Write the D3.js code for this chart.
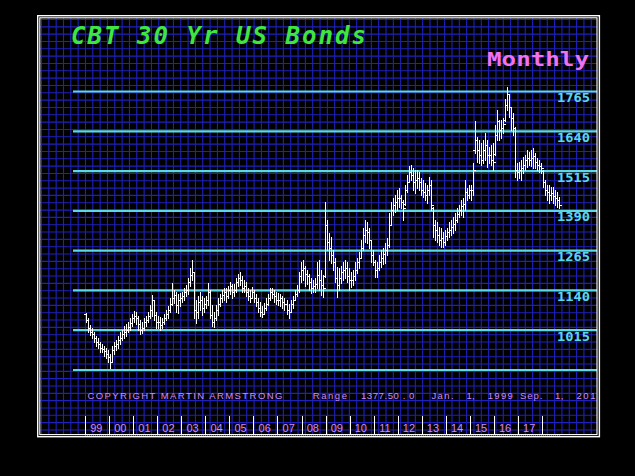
<!DOCTYPE html>
<html><head><meta charset="utf-8">
<script src="https://cdn.jsdelivr.net/npm/d3@7"></script>
<style>html,body{margin:0;padding:0;background:#000;}svg{display:block;}</style>
</head><body>
<svg id="c" width="635" height="476"></svg>
<script>
// ---- data (monthly bars, Jan 1999 .. Sep 2018) ----
const startYear = 1999;
const yearLabels = ["99","00","01","02","03","04","05","06","07","08","09","10","11","12","13","14","15","16","17"];
const levelTicks = [890, 1015, 1140, 1265, 1390, 1515, 1640, 1765];
const levelLabels = ["", "1015", "1140", "1265", "1390", "1515", "1640", "1765"];
const titleText = "CBT 30 Yr US Bonds";
const periodText = "Monthly";
const copyrightText = "COPYRIGHT MARTIN ARMSTRONG";
const rangeTokens = ["Range", "1377.50 . 0", "Jan.", "1,", "1999", "Sep.", "1,", "2018"];

const openP = [
1065,1047,1021,1009,1002,990,977,971,958,955,949,939,
930,914,952,965,971,984,990,1002,1009,1015,1025,1037,
1053,1059,1053,1034,1015,1021,1040,1047,1059,1078,1110,1062,
1040,1040,1031,1040,1053,1065,1078,1097,1116,1125,1094,1110,
1116,1122,1135,1141,1166,1188,1198,1078,1072,1103,1110,1084,
1097,1110,1135,1062,1040,1053,1078,1097,1116,1125,1135,1122,
1141,1154,1135,1141,1166,1179,1173,1147,1154,1135,1122,1116,
1135,1116,1103,1084,1072,1065,1084,1097,1116,1135,1128,1122,
1110,1110,1116,1103,1097,1078,1072,1097,1110,1128,1141,1185,
1204,1210,1191,1185,1166,1147,1154,1160,1188,1173,1157,1185,
1346,1292,1273,1251,1229,1179,1157,1179,1198,1204,1210,1185,
1173,1173,1185,1204,1229,1242,1273,1314,1330,1324,1299,1251,
1229,1204,1210,1229,1242,1255,1267,1283,1346,1393,1409,1418,
1431,1431,1418,1412,1456,1481,1513,1503,1481,1488,1494,1481,
1456,1450,1440,1456,1472,1400,1346,1330,1314,1299,1305,1292,
1311,1324,1330,1340,1349,1362,1381,1393,1406,1412,1450,1440,
1456,1456,1580,1614,1582,1566,1551,1582,1598,1566,1566,1551,
1570,1629,1671,1645,1651,1675,1724,1756,1715,1683,1651,1519,
1513,1519,1525,1535,1551,1557,1551,1557,1563,1544,1535,1532,
1515,1481,1456,1450,1440,1447,1437,1431,1425];
const highP = [
1069,1053,1031,1021,1009,996,990,977,971,965,958,952,
939,965,977,984,996,1009,1015,1028,1034,1040,1053,1065,
1075,1072,1059,1047,1040,1053,1059,1072,1094,1125,1110,1072,
1059,1056,1053,1065,1078,1091,1116,1163,1141,1135,1128,1132,
1135,1147,1157,1179,1210,1236,1198,1110,1122,1135,1122,1116,
1122,1163,1141,1094,1072,1094,1116,1128,1141,1147,1147,1154,
1166,1160,1160,1179,1191,1198,1185,1173,1166,1147,1141,1151,
1141,1128,1116,1103,1091,1100,1116,1128,1147,1147,1141,1135,
1132,1128,1122,1116,1110,1097,1110,1122,1141,1157,1198,1229,
1236,1217,1204,1191,1179,1173,1179,1229,1236,1204,1188,1418,
1362,1321,1308,1267,1242,1214,1210,1217,1229,1236,1229,1210,
1198,1204,1229,1242,1261,1299,1337,1362,1355,1337,1299,1267,
1236,1229,1251,1267,1273,1289,1305,1384,1418,1431,1440,1456,
1462,1440,1425,1472,1503,1532,1535,1525,1519,1519,1513,1494,
1488,1478,1472,1497,1488,1403,1362,1355,1340,1337,1324,1330,
1337,1355,1362,1371,1384,1400,1409,1425,1431,1488,1462,1472,
1472,1541,1671,1623,1614,1604,1614,1636,1614,1592,1598,1604,
1661,1708,1677,1677,1683,1740,1778,1756,1715,1699,1655,1541,
1544,1551,1560,1566,1582,1576,1582,1589,1573,1557,1551,1541,
1519,1488,1472,1472,1466,1466,1456,1450,1434];
const lowP = [
1040,1009,999,990,977,965,958,946,946,933,927,914,
895,914,939,952,958,971,984,990,996,1009,1015,1028,
1040,1034,1015,1002,1005,1015,1028,1040,1053,1059,1047,1021,
1021,1015,1021,1034,1047,1053,1072,1094,1100,1072,1069,1091,
1103,1110,1122,1128,1154,1173,1053,1037,1053,1078,1062,1072,
1084,1094,1053,1028,1025,1047,1062,1091,1103,1110,1103,1116,
1128,1116,1122,1135,1154,1157,1135,1135,1122,1110,1103,1116,
1103,1091,1072,1059,1056,1065,1078,1094,1110,1116,1103,1097,
1094,1091,1084,1078,1065,1053,1072,1084,1110,1122,1135,1166,
1173,1154,1160,1141,1132,1135,1135,1147,1141,1125,1119,1182,
1267,1236,1226,1204,1166,1119,1141,1163,1173,1179,1166,1141,
1151,1157,1173,1195,1210,1245,1267,1292,1289,1273,1229,1220,
1182,1182,1204,1214,1223,1226,1251,1277,1346,1377,1387,1393,
1403,1400,1362,1409,1450,1481,1488,1456,1447,1462,1456,1440,
1434,1425,1415,1440,1393,1308,1299,1292,1283,1277,1277,1283,
1299,1308,1314,1321,1330,1355,1371,1377,1371,1393,1425,1431,
1425,1440,1573,1544,1541,1535,1541,1551,1529,1541,1535,1519,
1566,1614,1614,1620,1636,1671,1708,1686,1645,1629,1497,1488,
1494,1488,1510,1519,1529,1535,1532,1525,1525,1519,1513,1510,
1466,1440,1425,1415,1425,1415,1409,1403,1400];
const closeP = [
1047,1021,1009,1002,990,977,971,958,955,949,939,930,
914,952,965,971,984,990,1002,1009,1015,1025,1037,1053,
1059,1053,1034,1015,1021,1040,1047,1059,1078,1110,1062,1040,
1040,1031,1040,1053,1065,1078,1097,1116,1125,1094,1110,1116,
1122,1135,1141,1166,1188,1198,1078,1072,1103,1110,1084,1097,
1110,1135,1062,1040,1053,1078,1097,1116,1125,1135,1122,1141,
1154,1135,1141,1166,1179,1173,1147,1154,1135,1122,1116,1135,
1116,1103,1084,1072,1065,1084,1097,1116,1135,1128,1122,1110,
1110,1116,1103,1097,1078,1072,1097,1110,1128,1141,1185,1204,
1210,1191,1185,1166,1147,1154,1160,1188,1173,1157,1147,1346,
1292,1273,1251,1229,1179,1157,1179,1198,1204,1210,1185,1173,
1173,1185,1204,1229,1242,1273,1314,1330,1324,1299,1251,1229,
1204,1210,1229,1242,1255,1267,1283,1346,1393,1409,1418,1431,
1431,1418,1400,1456,1481,1513,1503,1481,1488,1494,1481,1456,
1450,1440,1456,1472,1409,1346,1330,1314,1299,1305,1292,1311,
1324,1330,1340,1349,1362,1381,1393,1406,1412,1450,1440,1456,
1456,1519,1614,1582,1566,1551,1582,1598,1566,1566,1551,1544,
1629,1671,1645,1651,1664,1724,1756,1715,1683,1651,1519,1513,
1519,1525,1535,1551,1557,1551,1557,1563,1544,1535,1532,1525,
1481,1456,1450,1440,1447,1437,1431,1425,1409];

// ---- layout ----
const svg = d3.select("#c");
const W = 635, H = 476;
const inner = {x0: 40, y0: 18, x1: 597, y1: 434.7};

const bars = closeP.map((c, i) => ({i, o: openP[i], h: highP[i], l: lowP[i], c}));

const x = d3.scaleLinear().domain([0, 240]).range([85.1, 85.1 + 240 * 2.004]);
const y = d3.scaleLinear().domain([890, 1765]).range([370, 91.5]);
const px = i => Math.round(x(i + 0.5)) + 0.5;

svg.append("rect").attr("width", W).attr("height", H).attr("fill", "#000");

const defs = svg.append("defs");
defs.append("clipPath").attr("id", "clipIn").append("rect")
  .attr("x", inner.x0).attr("y", inner.y0)
  .attr("width", inner.x1 - inner.x0).attr("height", inner.y1 - inner.y0);

// grid
const grid = svg.append("g").attr("clip-path", "url(#clipIn)");
const gs = 7.33;
grid.selectAll("line.gv").data(d3.range(41.5, inner.x1, gs)).join("line")
  .attr("x1", d => d).attr("x2", d => d).attr("y1", inner.y0).attr("y2", inner.y1)
  .attr("stroke", "#2020bc").attr("stroke-width", 1.1);
grid.selectAll("line.gh").data(d3.range(19.5, inner.y1, gs)).join("line")
  .attr("y1", d => d).attr("y2", d => d).attr("x1", inner.x0).attr("x2", inner.x1)
  .attr("stroke", "#2020bc").attr("stroke-width", 1.1);

// cyan level lines
svg.append("g").selectAll("line").data(levelTicks).join("line")
  .attr("x1", 73).attr("x2", inner.x1)
  .attr("y1", d => y(d)).attr("y2", d => y(d))
  .attr("stroke", "#5ad8e6").attr("stroke-width", 2.2);

// level labels
svg.append("g").selectAll("text").data(levelTicks.map((v, k) => ({v, t: levelLabels[k]})).filter(d => d.t)).join("text")
  .attr("x", 557).attr("y", d => y(d.v) + 10.5)
  .attr("font-family", "DejaVu Sans Mono, monospace").attr("font-weight", "bold")
  .attr("font-size", 13).attr("fill", "#5ad8e6")
  .attr("textLength", 33).attr("lengthAdjust", "spacingAndGlyphs")
  .text(d => d.t);

// OHLC bars
const gb = svg.append("g").attr("stroke", "#ffffff").attr("stroke-width", 1).attr("shape-rendering", "crispEdges");
gb.selectAll("line.hl").data(bars).join("line")
  .attr("x1", d => px(d.i)).attr("x2", d => px(d.i))
  .attr("y1", d => Math.round(y(d.h))).attr("y2", d => Math.round(y(d.l)) + 1);
gb.selectAll("line.op").data(bars).join("line")
  .attr("x1", d => px(d.i) - 2.5).attr("x2", d => px(d.i))
  .attr("y1", d => Math.round(y(d.o)) + 0.5).attr("y2", d => Math.round(y(d.o)) + 0.5);
gb.selectAll("line.cl").data(bars).join("line")
  .attr("x1", d => px(d.i)).attr("x2", d => px(d.i) + 2.5)
  .attr("y1", d => Math.round(y(d.c)) + 0.5).attr("y2", d => Math.round(y(d.c)) + 0.5);

// title
svg.append("text").attr("x", 71).attr("y", 44)
  .attr("font-family", "DejaVu Sans Mono, monospace").attr("font-weight", "bold").attr("font-style", "italic")
  .attr("font-size", 24).attr("fill", "#3ee63e")
  .attr("textLength", 295).attr("lengthAdjust", "spacing")
  .text(titleText);
svg.append("text").attr("x", 487).attr("y", 66)
  .attr("font-family", "DejaVu Sans Mono, monospace").attr("font-weight", "bold")
  .attr("font-size", 20).attr("fill", "#f072f0")
  .attr("textLength", 102).attr("lengthAdjust", "spacingAndGlyphs")
  .text(periodText);

// copyright / range line
const txtCol = "#d08cf4";
svg.append("text").attr("x", 87.4).attr("y", 399.3)
  .attr("font-family", "Liberation Sans, Arial, sans-serif").attr("font-size", 9.5).attr("fill", txtCol)
  .attr("textLength", 195).attr("lengthAdjust", "spacing")
  .text(copyrightText);
const tokX = [312.7, 361, 431.4, 466.4, 487.7, 519.9, 555, 576.4];
const tokW = [34.3, 53.4, 22.2, 8.3, 25.2, 22.5, 8.5, 26];
svg.append("g").attr("clip-path", "url(#clipIn)").selectAll("text").data(rangeTokens).join("text")
  .attr("x", (d, k) => tokX[k]).attr("y", 399.3)
  .attr("font-family", "Liberation Sans, Arial, sans-serif").attr("font-size", 9.5).attr("fill", txtCol)
  .attr("textLength", (d, k) => tokW[k]).attr("lengthAdjust", "spacing")
  .text(d => d);

// year ticks & labels
const yearTicks = d3.range(0, yearLabels.length + 1).map(k => k * 12);
svg.append("g").attr("shape-rendering", "crispEdges").selectAll("line").data(yearTicks).join("line")
  .attr("x1", d => Math.round(x(d)) + 0.5).attr("x2", d => Math.round(x(d)) + 0.5).attr("y1", 416).attr("y2", 435)
  .attr("stroke", "#fff").attr("stroke-width", 1.5);
svg.append("g").selectAll("text").data(yearLabels).join("text")
  .attr("x", (d, k) => x(k * 12 + 6) - 0.8).attr("y", 431.8)
  .attr("text-anchor", "middle")
  .attr("font-family", "Liberation Sans, Arial, sans-serif").attr("font-size", 11).attr("fill", txtCol)
  .text(d => d);
svg.append("line").attr("x1", x(0)).attr("x2", x(bars.length)).attr("y1", 436).attr("y2", 436)
  .attr("stroke", "#fff").attr("stroke-width", 1).attr("stroke-dasharray", "1,1");

// frame
svg.append("rect").attr("x", 37.7).attr("y", 15.7).attr("width", 599.4 - 37.7).attr("height", 436.7 - 15.7)
  .attr("fill", "none").attr("stroke", "#fff").attr("stroke-width", 1.4);
svg.append("rect").attr("x", 39.8).attr("y", 17.8).attr("width", 597 - 39.8).attr("height", 434.6 - 17.8)
  .attr("fill", "none").attr("stroke", "#fff").attr("stroke-width", 1.1);
</script>
</body></html>
